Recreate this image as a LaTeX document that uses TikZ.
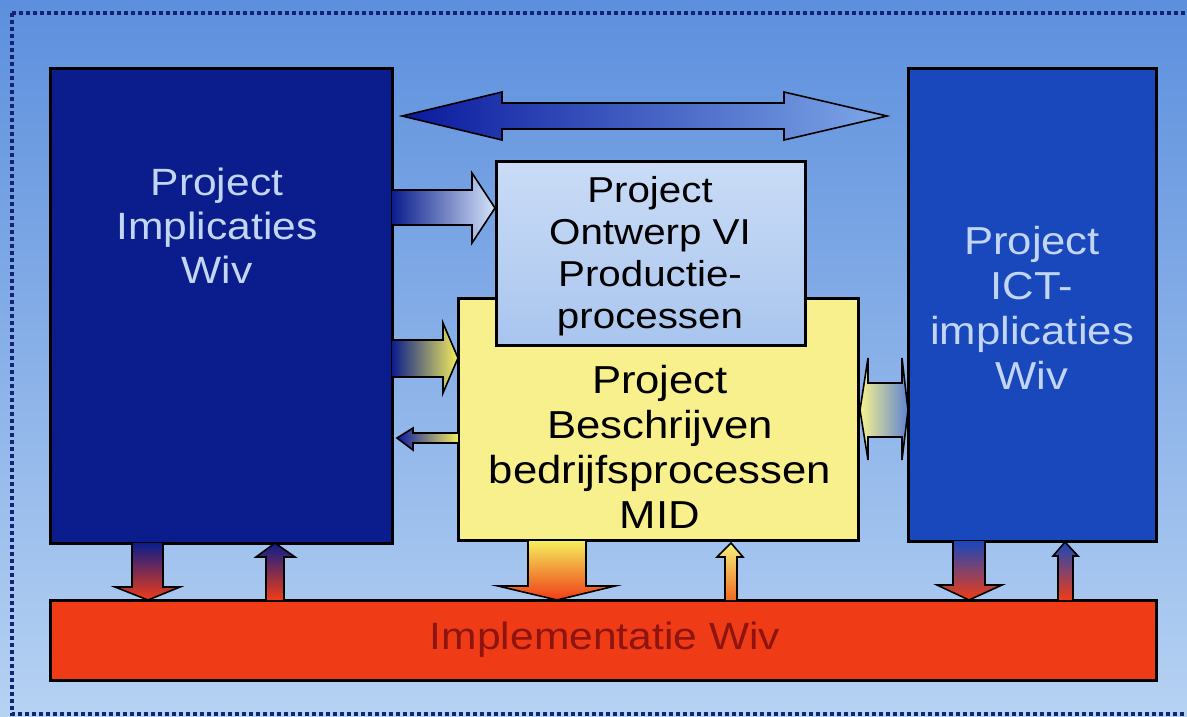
\documentclass[tikz,border=0pt]{standalone}
\usepackage{fontspec}
\setmainfont{Liberation Sans}[FakeStretch=1.12]
\definecolor{bgtop}{HTML}{5C8FDD}
\definecolor{bgbot}{HTML}{B6D2F3}
\definecolor{navy}{HTML}{0B1D8C}
\definecolor{rblue}{HTML}{1848BC}
\definecolor{paleblue}{HTML}{CADCF6}
\definecolor{paleblue2}{HTML}{A9C5EE}
\definecolor{arrowend}{HTML}{7EA8E8}
\definecolor{pyellow}{HTML}{F7F08C}
\definecolor{ared}{HTML}{F03C16}
\definecolor{apink}{HTML}{E8407A}
\definecolor{ayellow}{HTML}{F4EE5C}
\definecolor{aorange}{HTML}{F26A1E}
\definecolor{txtlight}{HTML}{C2D6F2}
\definecolor{txtred}{HTML}{8E1410}
\definecolor{dotc}{HTML}{142472}
\begin{document}
\begin{tikzpicture}[x=1pt,y=-1pt,
  boxline/.style={draw=black,line width=3pt},
  arrline/.style={draw=black,line width=1.6pt,line join=miter},
  bigtext/.style={align=center,font=\fontsize{39}{45}\selectfont}]
\useasboundingbox (0,0) rectangle (1187,716);
% background
\shade[top color=bgtop,bottom color=bgbot] (0,0) rectangle (1187,716);
\draw[dotc,line width=3.6pt,dash pattern=on 3.6pt off 3.4pt] (12,13) -- (1195,13) (12,13) -- (12,714) -- (1195,714);
% left box
\node[boxline,fill=navy,minimum width=342pt,minimum height=475pt,inner sep=0pt] (L) at (221,305.5) {};
\node[bigtext,text=txtlight,font=\fontsize{38}{44}\selectfont] (Ltxt) at (217,226) {Project\\Implicaties\\Wiv};
% right box
\node[boxline,fill=rblue,minimum width=248pt,minimum height=473pt,inner sep=0pt] (R) at (1032,304.5) {};
\node[bigtext,text=txtlight] (Rtxt) at (1032,308) {Project\\ICT-\\implicaties\\Wiv};
% yellow box
\node[boxline,fill=pyellow,minimum width=400pt,minimum height=242pt,inner sep=0pt] (Y) at (658,419) {};
\node[bigtext] (Ytxt) at (660,447) {Project\\Beschrijven\\bedrijfsprocessen\\MID};
% light blue box
\path[boxline,top color=paleblue,bottom color=paleblue2] (496,161) rectangle (805,345);
\node[align=center,font=\fontsize{36}{42}\selectfont] (Mtxt) at (650,256) {Project\\Ontwerp VI\\Productie-\\processen};
% bottom bar
\node[boxline,fill=ared,minimum width=1106pt,minimum height=80pt,inner sep=0pt] (B) at (603,640) {};
\node[text=txtred,font=\fontsize{38}{44}\selectfont] (Btxt) at (605,640) {Implementatie Wiv};
% top double arrow
\path[arrline,left color=navy!85!blue,right color=arrowend]
  (402,116) -- (502,92) -- (502,103) -- (784,103) -- (784,92) -- (887,116)
  -- (784,140) -- (784,129) -- (502,129) -- (502,140) -- cycle;
% arrow left box -> light blue box
\path[arrline,left color=navy,right color=paleblue!80!white]
  (392,190) -- (472,190) -- (472,173) -- (495,208) -- (472,243) -- (472,225) -- (392,225);
% arrow left box -> yellow box
\path[arrline,left color=navy,right color=ayellow]
  (392,340) -- (443,340) -- (443,323) -- (458,358) -- (443,393) -- (443,377) -- (392,377);
% small arrow yellow -> left box
\path[arrline,left color=navy!80!blue,right color=ayellow]
  (458,433) -- (413,433) -- (413,428) -- (397,438) -- (413,450) -- (413,443) -- (458,443);
% double arrow yellow <-> right box
\path[arrline,left color=ayellow!70!white,right color=rblue!60!paleblue]
  (868,358) -- (868,383) -- (902,383) -- (902,358) -- (908,410)
  -- (902,460) -- (902,437) -- (868,437) -- (868,460) -- (860,410) -- cycle;
% bottom arrows
\path[arrline,top color=navy,middle color=apink,bottom color=ared]
  (132,543) -- (132,587) -- (115,587) -- (148,600) -- (180,587) -- (163,587) -- (163,543);
\path[arrline,top color=navy,middle color=apink,bottom color=ared]
  (266,600) -- (266,557) -- (256,557) -- (275,543) -- (295,557) -- (284,557) -- (284,600);
\path[arrline,top color=ayellow,middle color=ayellow!60!aorange,bottom color=ared]
  (528,541) -- (528,586) -- (498,586) -- (557,600) -- (615,586) -- (586,586) -- (586,541);
\path[arrline,top color=ayellow!80!white,bottom color=aorange]
  (725,600) -- (725,557) -- (717,557) -- (731,543) -- (743,557) -- (737,557) -- (737,600);
\path[arrline,top color=rblue,middle color=apink,bottom color=ared]
  (953,541) -- (953,585) -- (937,585) -- (969,600) -- (1002,585) -- (985,585) -- (985,541);
\path[arrline,top color=rblue,middle color=apink,bottom color=ared]
  (1058,600) -- (1058,556) -- (1053,556) -- (1065,542) -- (1078,556) -- (1073,556) -- (1073,600);
\end{tikzpicture}
\end{document}
